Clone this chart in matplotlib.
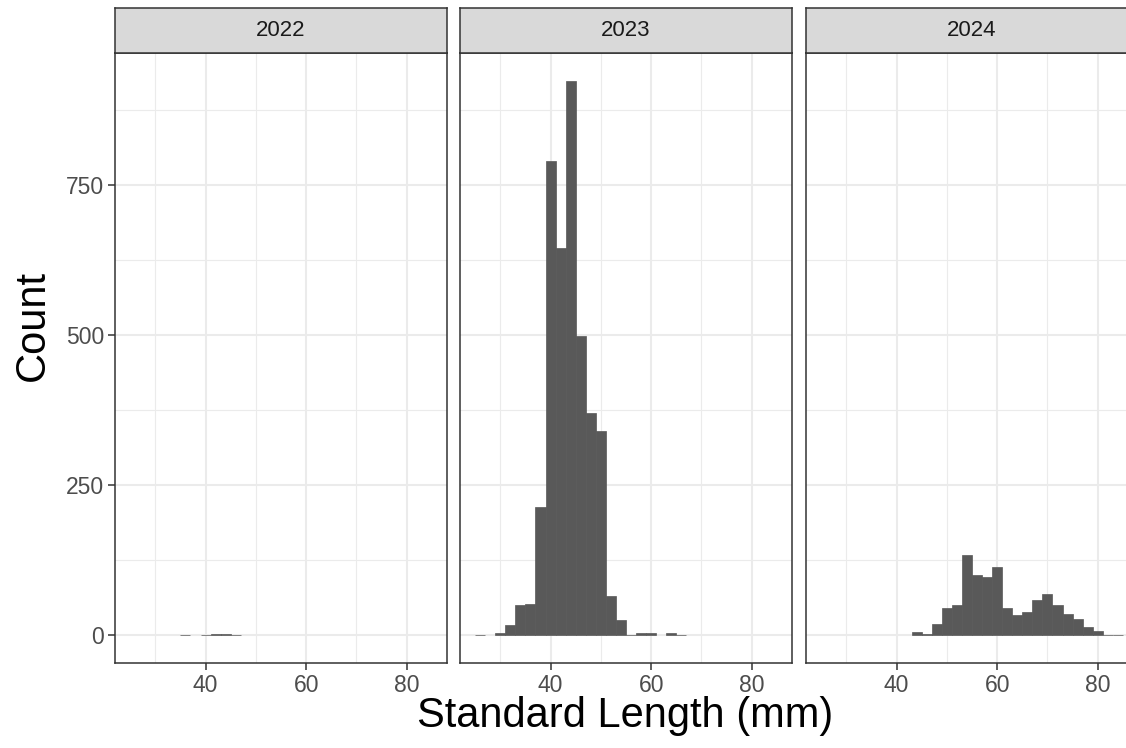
import matplotlib.pyplot as plt
import numpy as np

plt.rcParams['font.family'] = ['Liberation Sans', 'DejaVu Sans']

# histogram bins (width 2 mm), centres 26..84
bin_centers = list(range(26, 86, 2))
years = ['2022', '2023', '2024']

counts_2022 = [0, 0, 0, 0, 0, 1, 0, 1, 2, 2, 1, 0, 0, 0, 0,
               0, 0, 0, 0, 0, 0, 0, 0, 0, 0, 0, 0, 0, 0, 0]
counts_2023 = [1, 0, 4, 17, 50, 52, 214, 791, 646, 924, 499, 370, 340, 65, 26,
               1, 4, 4, 0, 4, 1, 0, 0, 0, 0, 0, 0, 0, 0, 0]
counts_2024 = [0, 0, 0, 0, 0, 0, 0, 0, 0, 5, 2, 18, 46, 50, 133,
               101, 97, 113, 46, 33, 39, 59, 68, 50, 36, 27, 13, 7, 1, 1]
all_counts = [counts_2022, counts_2023, counts_2024]

x_ticks = [40, 60, 80]
x_minor = [30, 50, 70]
y_ticks = [0, 250, 500, 750]
y_minor = [125, 375, 625, 875]

W, H = 1126, 748
fig = plt.figure(figsize=(W / 100, H / 100), dpi=100)

ymax = max(max(c) for c in all_counts)
ylim = (-0.05 * ymax, 1.05 * ymax)
xlim = (22, 88)

panel_left = [115, 460, 806]
panel_w = 332
top, bottom = 53, 663
strip_top = 8

for i, (year, counts) in enumerate(zip(years, all_counts)):
    l = panel_left[i]
    ax = fig.add_axes([l / W, (H - bottom) / H, panel_w / W, (bottom - top) / H])
    ax.set_xlim(*xlim)
    ax.set_ylim(*ylim)
    for v in x_minor:
        ax.axvline(v, color='#EBEBEB', lw=0.8, zorder=0)
    for v in y_minor:
        ax.axhline(v, color='#EBEBEB', lw=0.8, zorder=0)
    for v in x_ticks:
        ax.axvline(v, color='#EBEBEB', lw=1.5, zorder=0)
    for v in y_ticks:
        ax.axhline(v, color='#EBEBEB', lw=1.5, zorder=0)
    nz = [(c, n) for c, n in zip(bin_centers, counts) if n > 0]
    ax.bar([c for c, _ in nz], [n for _, n in nz], width=2, color='#595959',
           edgecolor='#595959', linewidth=0.5, zorder=2)
    for s in ax.spines.values():
        s.set_color('#333333')
        s.set_linewidth(1.1)
    ax.set_xticks(x_ticks)
    ax.tick_params(axis='x', length=5, width=1.1, color='#333333',
                   labelsize=16.5, labelcolor='#4D4D4D', pad=3)
    if i == 0:
        ax.set_yticks(y_ticks)
        ax.tick_params(axis='y', length=5, width=1.1, color='#333333',
                       labelsize=16.5, labelcolor='#4D4D4D', pad=3)
    else:
        ax.set_yticks([])

    sax = fig.add_axes([l / W, (H - top) / H, panel_w / W, (top - strip_top) / H])
    sax.set_facecolor('#D9D9D9')
    sax.set_xticks([])
    sax.set_yticks([])
    for s in sax.spines.values():
        s.set_color('#333333')
        s.set_linewidth(1.1)
    sax.text(0.5, 0.5, year, ha='center', va='center', fontsize=16,
             color='#1A1A1A', transform=sax.transAxes)

fig.text(33 / W, 1 - 325 / H, 'Count', rotation=90, ha='center', va='center',
         fontsize=30, color='black')
fig.text(625 / W, 1 - 716 / H, 'Standard Length (mm)', ha='center', va='center',
         fontsize=30, color='black')

fig.savefig('out.png', dpi=100)
